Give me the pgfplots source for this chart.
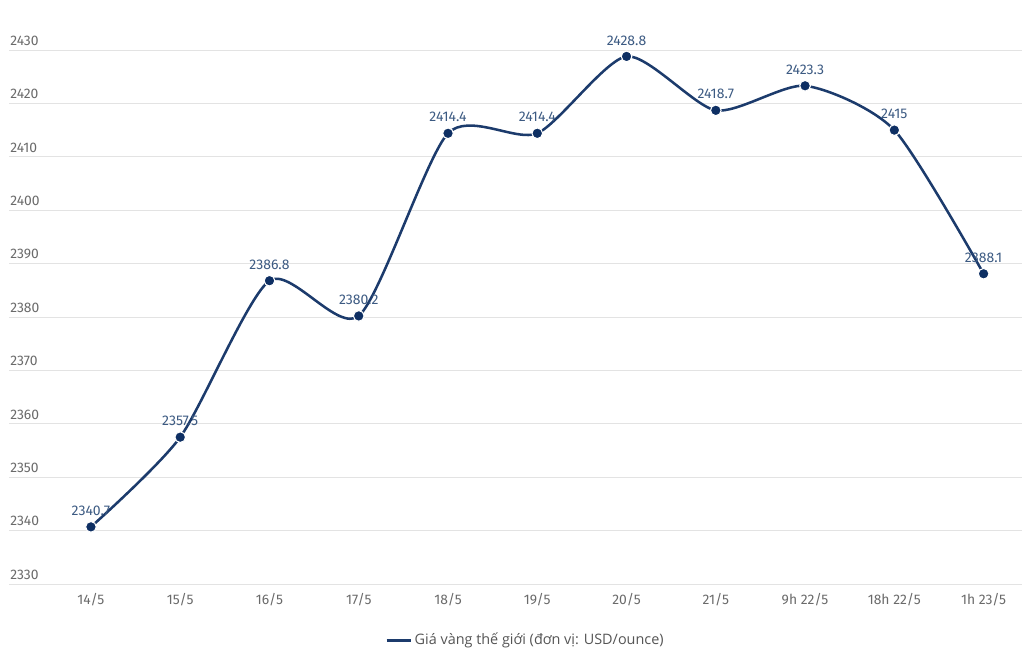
\documentclass[border=0pt]{standalone}
\usepackage{pgfplots}
\pgfplotsset{compat=1.18}
\usepackage{pgfplotstable}
\usepackage{fontspec}
\setmainfont{Fira Sans}
\newfontfamily\legfont{Open Sans}
\definecolor{navy}{HTML}{0E2F63}
\definecolor{linec}{HTML}{1C3B6C}
\definecolor{lblc}{HTML}{3C5A82}
\definecolor{tickc}{HTML}{6A6A6A}
\definecolor{gridc}{HTML}{E3E3E3}
\definecolor{legc}{HTML}{555555}

\pgfplotstableread{
x y lbl
0 2340.7 2340.7
1 2357.5 2357.5
2 2386.8 2386.8
3 2380.2 2380.2
4 2414.4 2414.4
5 2414.4 2414.4
6 2428.8 2428.8
7 2418.7 2418.7
8 2423.3 2423.3
9 2415 2415
10 2388.1 2388.1
}\data

\begin{document}
\begin{tikzpicture}
\path[use as bounding box] (0,0) rectangle (768pt,501.75pt);
\begin{axis}[
  at={(6.75pt,63.75pt)}, anchor=south west,
  scale only axis, width=759.75pt, height=400.5pt,
  xmin=-0.918, xmax=10.43, ymin=2330, ymax=2430,
  axis line style={draw=none},
  ymajorgrids, major grid style={gridc, line width=0.75pt},
  ytick={2330,2340,...,2430},
  xtick={0,...,10},
  xticklabels={14/5,15/5,16/5,17/5,18/5,19/5,20/5,21/5,9h 22/5,18h 22/5,1h 23/5},
  major tick length=0pt,
  tick label style={font=\fontsize{10.4}{12}\selectfont, text=tickc},
  yticklabel style={anchor=south west, inner sep=0pt, xshift=0.75pt, yshift=3.2pt},
  xticklabel style={yshift=-3.5pt},
  /pgf/number format/assume math mode=true,
  /pgf/number format/1000 sep={},
  clip=false,
  legend style={draw=none, at={(axis description cs:0.51,-0.105)}, anchor=center,
    font=\legfont\fontsize{10.8}{12}\selectfont, text=legc},
  legend image code/.code={\draw[linec, line width=2.3pt] (0pt,0pt) -- (18pt,0pt);},
]
\addplot[linec, line width=1.9pt, smooth, tension=0.42,
  mark=*, mark size=4pt, mark options={fill=navy, draw=white, line width=0.8pt},
  nodes near coords, point meta=explicit symbolic,
  every node near coord/.append style={font=\fontsize{10.5}{12}\selectfont, text=lblc, anchor=south, inner sep=0pt, yshift=8pt}]
  table[x=x,y=y,meta=lbl]{\data};
\addlegendentry{Giá vàng thế giới (đơn vị: USD/ounce)}
\end{axis}
\end{tikzpicture}
\end{document}
